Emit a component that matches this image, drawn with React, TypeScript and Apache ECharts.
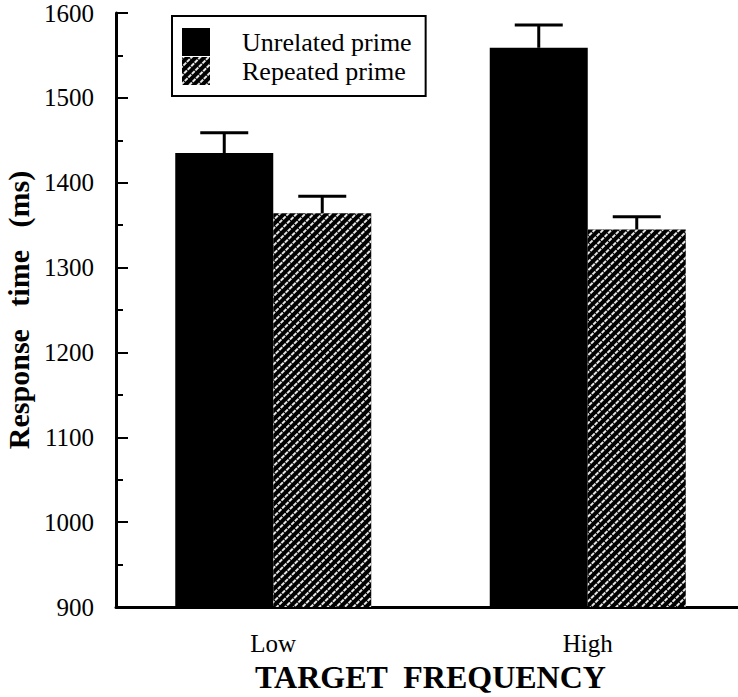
import React, { useEffect, useRef } from "react";
import * as echarts from "echarts";

const categories = ["Low", "High"];
const unrelatedMeans = [1435, 1559];
const unrelatedErrors = [24, 27];
const repeatedMeans = [1364, 1345];
const repeatedErrors = [20, 15];
const seriesNames = ["Unrelated prime", "Repeated prime"];
const yMin = 900;
const yMax = 1600;
const yStep = 100;

const FONT = "Liberation Serif";
const BAR_W = 98;

const hatch = {
  symbol: "rect",
  symbolSize: 1,
  color: "rgba(255,255,255,0.9)",
  dashArrayX: [4, 1],
  dashArrayY: [1.2, 3.8],
  rotation: -Math.PI / 4,
};

function errorRenderer(offset: number) {
  return (params: any, api: any) => {
    const ci = api.value(0);
    const v = api.value(1);
    const e = api.value(2);
    const base = api.coord([ci, v]);
    const top = api.coord([ci, v + e]);
    const x = base[0] + offset;
    return {
      type: "group",
      children: [
        { type: "line", shape: { x1: x, y1: base[1], x2: x, y2: top[1] }, style: { stroke: "#000", lineWidth: 3 } },
        { type: "line", shape: { x1: x - 24, y1: top[1], x2: x + 24, y2: top[1] }, style: { stroke: "#000", lineWidth: 3 } },
      ],
    };
  };
}

export default function App() {
  const ref = useRef<HTMLDivElement>(null);
  useEffect(() => {
    if (!ref.current) return;
    const chart = echarts.init(ref.current, null, { renderer: "svg" });
    chart.setOption({
      animation: false,
      backgroundColor: "#fff",
      textStyle: { fontFamily: FONT, color: "#000" },
      grid: { left: 116, right: -7, top: 13, bottom: 90, containLabel: false, outerBoundsMode: "none" },
      legend: {
        left: 172,
        top: 16,
        orient: "vertical",
        itemWidth: 28,
        itemHeight: 28,
        itemGap: 1,
        padding: [12, 14, 11, 10],
        borderColor: "#000",
        borderWidth: 2,
        icon: "rect",
        selectedMode: false,
        data: seriesNames,
        textStyle: { fontSize: 26, fontFamily: FONT, color: "#000", padding: [0, 0, 0, 27] },
      },
      xAxis: {
        type: "category",
        data: categories,
        axisLine: { lineStyle: { color: "#000", width: 3 } },
        axisTick: { alignWithLabel: true, length: 8, lineStyle: { color: "#000", width: 2 } },
        axisLabel: { fontSize: 25, fontFamily: FONT, color: "#000", margin: 24 },
        name: "TARGET  FREQUENCY",
        nameLocation: "middle",
        nameGap: 49,
        nameTextStyle: { fontSize: 32, fontFamily: FONT, fontWeight: "bold", color: "#000" },
      },
      yAxis: {
        type: "value",
        min: yMin,
        max: yMax,
        interval: yStep,
        splitLine: { show: false },
        axisLine: { show: true, lineStyle: { color: "#000", width: 3 } },
        axisTick: { show: true, inside: true, length: 12, lineStyle: { color: "#000", width: 2 } },
        minorTick: { show: true, splitNumber: 2, length: 7, lineStyle: { color: "#000", width: 2 } },
        axisLabel: {
          fontSize: 25,
          fontFamily: FONT,
          color: "#000",
          margin: 22,
          formatter: (v: number) => String(v),
        },
        name: "Response   time   (ms)",
        nameLocation: "middle",
        nameGap: 82,
        nameTextStyle: { fontSize: 30, fontFamily: FONT, fontWeight: "bold", color: "#000" },
      },
      series: [
        {
          name: seriesNames[0],
          type: "bar",
          data: unrelatedMeans,
          barWidth: BAR_W,
          barGap: "0%",
          itemStyle: { color: "#000" },
        },
        {
          name: seriesNames[1],
          type: "bar",
          data: repeatedMeans,
          barWidth: BAR_W,
          barGap: "0%",
          itemStyle: { color: "#000", decal: hatch },
        },
        {
          type: "custom",
          name: "err1",
          renderItem: errorRenderer(-BAR_W / 2),
          data: unrelatedMeans.map((v, i) => [i, v, unrelatedErrors[i]]),
          encode: { x: 0, y: 1 },
          z: 5,
        },
        {
          type: "custom",
          name: "err2",
          renderItem: errorRenderer(BAR_W / 2),
          data: repeatedMeans.map((v, i) => [i, v, repeatedErrors[i]]),
          encode: { x: 0, y: 1 },
          z: 5,
        },
      ],
    });
    return () => chart.dispose();
  }, []);
  return <div ref={ref} style={{ width: 738, height: 697, position: "absolute", left: 0, top: 0 }} />;
}
